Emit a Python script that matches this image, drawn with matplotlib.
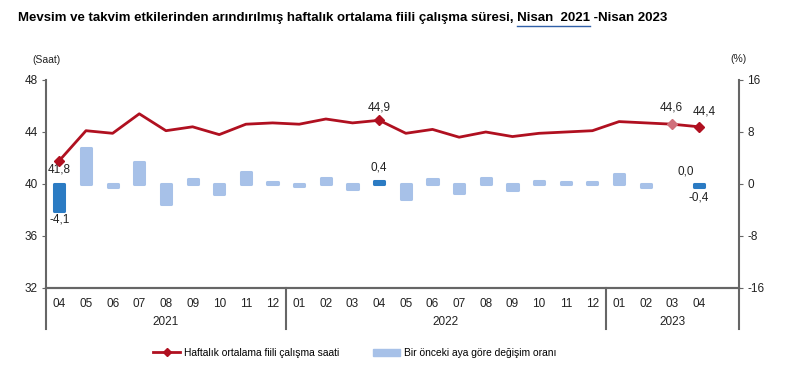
import numpy as np
import matplotlib
matplotlib.use("Agg")
import matplotlib.pyplot as plt
from matplotlib.lines import Line2D
from matplotlib.patches import Patch
import matplotlib.transforms as mtransforms

plt.rcParams['font.family'] = ['Liberation Sans', 'DejaVu Sans']
plt.rcParams['axes.unicode_minus'] = False

# data
months = ["04", "05", "06", "07", "08", "09", "10", "11", "12",
          "01", "02", "03", "04", "05", "06", "07", "08", "09", "10", "11", "12",
          "01", "02", "03", "04"]
years = ["2021", "2022", "2023"]
hours = [41.8, 44.1, 43.9, 45.4, 44.1, 44.4, 43.8, 44.6, 44.7,
         44.6, 45.0, 44.7, 44.9, 43.9, 44.2, 43.6, 44.0, 43.65, 43.9, 44.0, 44.1,
         44.8, 44.7, 44.6, 44.4]
change = [-4.1, 5.5, -0.5, 3.4, -3.0, 0.7, -1.5, 1.8, 0.3,
          -0.3, 0.9, -0.8, 0.4, -2.3, 0.7, -1.4, 1.0, -0.9, 0.5, 0.3, 0.3,
          1.6, -0.4, 0.0, -0.4]
highlight = [0, 12, 24]

x = np.arange(len(months))
red = "#B01020"
light = "#A7C1E8"
dark = "#2B7BC3"

fig = plt.figure(figsize=(8.03, 3.86), dpi=100)
ax = fig.add_axes([46/803, 1-288/386, (739-46)/803, (288-80)/386])
ax2 = ax.twinx()

# bars on right axis
cols = [dark if i in highlight else light for i in range(len(x))]
lws = [0 if v == 0 else 2.2 for v in change]
ax2.bar(x, change, width=0.38, color=cols, edgecolor=cols, linewidth=lws,
        joinstyle="round", zorder=2)
ax2.set_ylim(-16, 16)
ax2.set_yticks([-16, -8, 0, 8, 16])

# line on left axis
ax.set_zorder(ax2.get_zorder() + 1)
ax.patch.set_visible(False)
ax.plot(x, hours, color=red, lw=2.0, zorder=3)
mk_idx = [0, 12, 24]
ax.plot(x[mk_idx], np.array(hours)[mk_idx], ls="none", marker="D", ms=5,
        color=red, zorder=4)
ax.plot(x[23], hours[23], ls="none", marker="D", ms=5, color="#D0707C", zorder=4)
ax.set_ylim(32, 48)
ax.set_yticks([32, 36, 40, 44, 48])
ax.set_xlim(-0.5, 25.5)
ax.set_xticks(x)
ax.set_xticklabels(months)

for a in (ax, ax2):
    a.spines["top"].set_visible(False)
    a.tick_params(labelsize=8.5, colors="#222222", length=3, width=0.8)
    for s in ["left", "right", "bottom"]:
        a.spines[s].set_color("#666666")
        a.spines[s].set_linewidth(1.5)
ax.tick_params(axis="x", length=0, pad=7)
ax.tick_params(axis="y", colors="#666666", labelcolor="#222222", pad=3)
ax2.tick_params(axis="y", colors="#666666", labelcolor="#222222", pad=3)
ax.spines["right"].set_visible(False)
ax2.spines["left"].set_visible(False)

# spine extensions and year separators below axis
trans = mtransforms.blended_transform_factory(ax.transData, ax.transAxes)
ext = (288 - 329) / 208
for xv in [-0.5, 8.5, 20.5, 25.5]:
    ax.add_line(Line2D([xv, xv], [0, ext], transform=trans, color="#666666",
                       lw=1.5, clip_on=False))
for yr, xc in zip(years, [4, 14.5, 23]):
    ax.text(xc, (288 - 322) / 208, yr, transform=trans, ha="center", va="center",
            fontsize=8.5, color="#222222")

# annotations
ann = [(0, 170, "41,8"), (0, 220, "-4,1"), (12, 107, "44,9"), (12, 168, "0,4"),
       (22.95, 108, "44,6"), (24.2, 112, "44,4"), (23.5, 172, "0,0"), (24, 198, "-0,4")]
for xi, ypix, txt in ann:
    ax.text(xi, (288 - ypix) / 208, txt, transform=trans, ha="center", va="center",
            fontsize=8.5, color="#222222")

fig.text(32/803, 1-60/386, "(Saat)", fontsize=7.5, ha="left", va="center", color="#222222")
fig.text(739/803, 1-59/386, "(%)", fontsize=7.5, ha="center", va="center", color="#222222")

# title with underlined part
part1 = "Mevsim ve takvim etkilerinden arındırılmış haftalık ortalama fiili çalışma süresi, "
part2 = "Nisan  2021"
part3 = " -Nisan 2023"
t = fig.text(18/803, 1-18/386, part1 + part2 + part3,
             fontsize=9.5, fontweight="bold", ha="left", va="center")
r = fig.canvas.get_renderer()
tmp = fig.text(0, 0, part1, fontsize=9.5, fontweight="bold")
w1 = tmp.get_window_extent(r).width
tmp.set_text(part1 + part2)
w2 = tmp.get_window_extent(r).width
tmp.remove()
fig.add_artist(Line2D([(18 + w1) / 803, (18 + w2) / 803], [1-26/386, 1-26/386],
                      color="#3060A8", lw=1.0))

# legend
handles = [Line2D([], [], color=red, lw=2.0, marker="D", ms=4.5),
           Patch(facecolor=light, edgecolor=light)]
fig.legend(handles, ["Haftalık ortalama fiili çalışma saati", "Bir önceki aya göre değişim oranı"],
           loc="center", bbox_to_anchor=(355/803, 1-353/386), ncol=2, frameon=False,
           fontsize=7.4, handlelength=2.6, columnspacing=3.3, handletextpad=0.4)

fig.savefig("out.png", dpi=100)
